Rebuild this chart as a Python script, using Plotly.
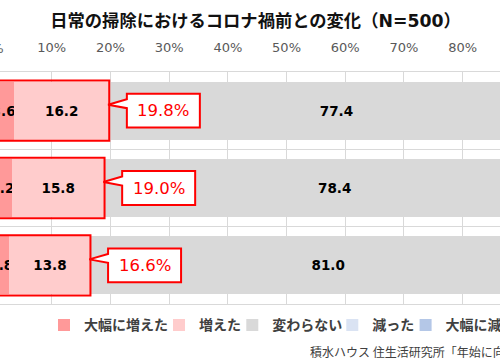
import plotly.graph_objects as go

# ---- data ----
categories = ["掃除の頻度", "掃除にかける時間", "掃除する場所"]
series_names = ["大幅に増えた", "増えた", "変わらない", "減った", "大幅に減った"]
greatly_increased = [3.6, 3.2, 2.8]
increased = [16.2, 15.8, 13.8]
unchanged = [77.4, 78.4, 81.0]
decreased = [2.2, 2.0, 1.8]
greatly_decreased = [0.6, 0.6, 0.6]
colors = ["#ff9999", "#ffcccc", "#d9d9d9", "#dae3f3", "#b4c7e7"]
tick_vals = [0, 10, 20, 30, 40, 50, 60, 70, 80, 90, 100]
tick_text = [f"{v}%" for v in tick_vals]
title_text = "日常の掃除におけるコロナ禍前との変化（N=500）"
source_text = "積水ハウス 住生活研究所「年始に向けた大掃除に関する調査」"

W, H = 500, 364
M_T, M_B = 71.5, 59.5
plot_h = H - M_T - M_B
x_range = [1.192, 86.36]
px_per_pct = W / (x_range[1] - x_range[0])
px_per_cat = plot_h / 3.0

FONT = "DejaVu Sans, Noto Sans CJK JP"
JP = "Noto Sans CJK JP"

series = [greatly_increased, increased, unchanged, decreased, greatly_decreased]
legend_widths = [70, 28.3, 55, 28.3, 61]
show_text = [True, True, True, False, False]
ypos = list(range(len(categories)))

fig = go.Figure()
for name, vals, col, lw, st in zip(series_names, series, colors, legend_widths, show_text):
    fig.add_trace(go.Bar(
        y=ypos, x=vals, name=name, orientation="h",
        marker=dict(color=col, line=dict(width=0)),
        texttemplate="%{x:.1f}" if st else None,
        textposition="inside" if st else "none",
        insidetextanchor="middle", textangle=0,
        textfont=dict(family=FONT, size=13.5, color="#000000", weight="bold"),
        legendwidth=lw, hoverinfo="skip",
    ))

shapes = []
annotations = []
half_bar = 0.375 + 1.2 / px_per_cat
box_w = 73 / px_per_pct
box_h = 34 / px_per_cat
for i, (a, b) in enumerate(zip(greatly_increased, increased)):
    total = a + b
    # red frame around increase segments
    shapes.append(dict(type="rect", xref="x", yref="y", x0=-1, x1=total,
                       y0=i - half_bar, y1=i + half_bar,
                       line=dict(color="#ff0000", width=2), fillcolor="rgba(0,0,0,0)"))
    # callout box
    bl = total + 3.0
    br = bl + box_w
    top = i - box_h / 2
    bot = i + box_h / 2
    w_hi = top + 5.5 / px_per_cat
    w_lo = top + 14.5 / px_per_cat
    tip_y = top + 11 / px_per_cat
    tip_x = total - 0.2
    path = (f"M{bl},{top} L{br},{top} L{br},{bot} L{bl},{bot} "
            f"L{bl},{w_lo} L{tip_x},{tip_y} L{bl},{w_hi} Z")
    shapes.append(dict(type="path", xref="x", yref="y", path=path,
                       fillcolor="#ffffff", line=dict(color="#ff0000", width=2)))
    annotations.append(dict(x=(bl + br) / 2, y=i, xref="x", yref="y",
                            text=f"{total:.1f}%", showarrow=False,
                            font=dict(family=FONT, size=16.5, color="#ff0000")))

# partially visible 0% tick label at left edge
annotations.append(dict(x=-7 / W, y=(plot_h + 23.8) / plot_h, xref="paper", yref="paper",
                        text="0%", showarrow=False, xanchor="center", yanchor="middle",
                        font=dict(family=FONT, size=13, color="#595959")))
# source
annotations.append(dict(x=308 / W, y=-(352 - (H - M_B)) / plot_h, xref="paper", yref="paper",
                        text=source_text, showarrow=False, xanchor="left", yanchor="middle",
                        font=dict(family=JP, size=12, color="#404040")))

fig.update_layout(
    width=W, height=H,
    margin=dict(l=0, r=0, t=M_T, b=M_B, pad=0, autoexpand=False),
    paper_bgcolor="#ffffff", plot_bgcolor="#ffffff",
    barmode="stack", bargap=0.25,
    title=dict(text=title_text, x=255.5 / W, xanchor="center", y=1 - 20.7 / H, yanchor="middle",
               font=dict(family=FONT, size=17.3, color="#111111", weight="bold")),
    xaxis=dict(range=x_range, side="top", tickvals=tick_vals, ticktext=tick_text,
               showgrid=True, gridcolor="#d9d9d9", gridwidth=1, zeroline=False,
               showline=True, mirror=True, linecolor="#d9d9d9", linewidth=1,
               ticks="", ticklabelstandoff=14,
               tickfont=dict(family=FONT, size=13, color="#595959")),
    yaxis=dict(range=[2.5, -0.5], tickvals=[0.5, 1.5], showticklabels=False,
               showgrid=True, gridcolor="#d9d9d9", gridwidth=1, zeroline=False,
               showline=False, ticks=""),
    showlegend=True,
    legend=dict(orientation="h", x=44 / W, xanchor="left", y=-(326 - (H - M_B)) / plot_h,
                yanchor="middle", traceorder="normal", bgcolor="rgba(0,0,0,0)",
                font=dict(family=JP, size=14, color="#404040", weight="bold")),
    uniformtext=dict(minsize=13.5, mode="show"),
    shapes=shapes, annotations=annotations,
)

fig.write_html("out.html", config={"displayModeBar": False},
               post_script="document.body.style.margin='0px';")
